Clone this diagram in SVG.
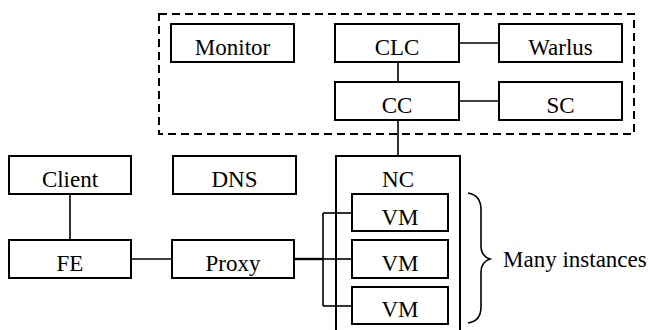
<svg xmlns="http://www.w3.org/2000/svg" width="657" height="330" viewBox="0 0 657 330">
<rect x="0" y="0" width="657" height="330" fill="#fff"/>
<rect id="cloud" x="159" y="14" width="475" height="120" fill="none" stroke="#000" stroke-width="2" stroke-dasharray="8,5"/>
<g id="connectors" fill="none" stroke="#000" stroke-width="1.6">
<path d="M398 62V82"/>
<path d="M459 43H499"/>
<path d="M459 101H499"/>
<path d="M398 120V156"/>
<path d="M70 194V240"/>
<path d="M131 259H172"/>
<path d="M294 259H323" stroke-width="2.4"/>
<path d="M323 259H352"/>
<path d="M323 213V306"/>
<path d="M323 213H352"/>
<path d="M323 306H352"/>
</g>
<g fill="#fff" stroke="#000" stroke-width="2">
<rect id="Monitor-box" x="171" y="24" width="123" height="38"/>
<rect id="CLC-box" x="335" y="24" width="124" height="38"/>
<rect id="Warlus-box" x="499" y="24" width="123" height="38"/>
<rect id="CC-box" x="335" y="82" width="124" height="38"/>
<rect id="SC-box" x="499" y="82" width="123" height="38"/>
<rect id="Client-box" x="9" y="156" width="122" height="38"/>
<rect id="DNS-box" x="173" y="156" width="123" height="38"/>
<rect id="FE-box" x="9" y="240" width="122" height="38"/>
<rect id="Proxy-box" x="172" y="240" width="122" height="38"/>
<path id="NC-box" d="M336 332V156H460V332" fill="none"/>
<rect id="VM1-box" x="352" y="194" width="96" height="37"/>
<rect id="VM2-box" x="352" y="240" width="96" height="38"/>
<rect id="VM3-box" x="352" y="287" width="96" height="37"/>
<path id="brace" d="M468 193Q481 195 481 210V246Q481 256 490 259Q481 262 481 272V307Q481 321 468 323" fill="none" stroke-width="1.6"/>
</g>
<text font-family="Liberation Serif" font-size="23" text-anchor="middle" x="232.5" y="54.5">Monitor</text>
<text font-family="Liberation Serif" font-size="23" text-anchor="middle" x="397" y="54.5">CLC</text>
<text font-family="Liberation Serif" font-size="23" text-anchor="middle" x="560.5" y="54.5">Warlus</text>
<text font-family="Liberation Serif" font-size="23" text-anchor="middle" x="397" y="112.5">CC</text>
<text font-family="Liberation Serif" font-size="23" text-anchor="middle" x="560.5" y="112.5">SC</text>
<text font-family="Liberation Serif" font-size="23" text-anchor="middle" x="70" y="186.5">Client</text>
<text font-family="Liberation Serif" font-size="23" text-anchor="middle" x="234.5" y="186.5">DNS</text>
<text font-family="Liberation Serif" font-size="23" text-anchor="middle" x="70" y="270.5">FE</text>
<text font-family="Liberation Serif" font-size="23" text-anchor="middle" x="233" y="270.5">Proxy</text>
<text font-family="Liberation Serif" font-size="23" text-anchor="middle" x="398" y="187">NC</text>
<text font-family="Liberation Serif" font-size="23" text-anchor="middle" x="400" y="224.5">VM</text>
<text font-family="Liberation Serif" font-size="23" text-anchor="middle" x="400" y="270.5">VM</text>
<text font-family="Liberation Serif" font-size="23" text-anchor="middle" x="400" y="317">VM</text>
<text font-family="Liberation Serif" font-size="23" x="503" y="267">Many instances</text>
</svg>
